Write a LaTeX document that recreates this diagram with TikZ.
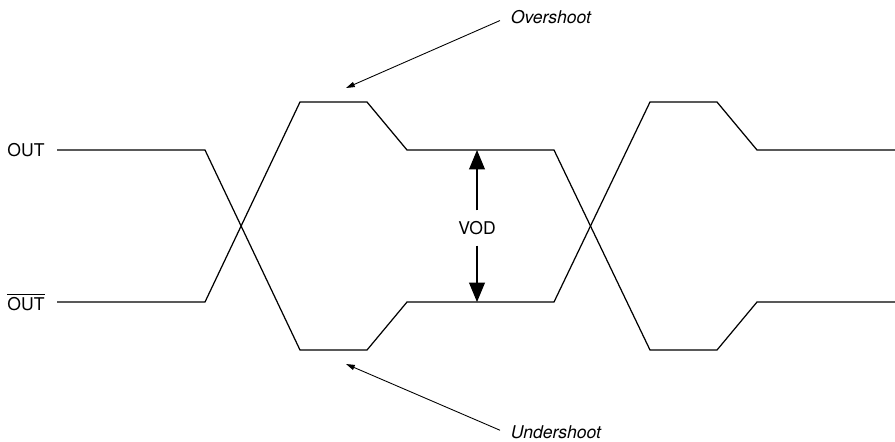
\documentclass[tikz,border=0pt]{standalone}
\usepackage{fontspec}
\setmainfont{TeX Gyre Heros}
\usepackage{tikz}
\usetikzlibrary{arrows.meta}

\begin{document}
\begin{tikzpicture}[
  x=0.02cm, y=-0.02cm,
  wave/.style={line width=0.7pt, line join=miter},
  lbl/.style={font=\fontsize{10}{12}\selectfont, inner xsep=7pt, inner ysep=2pt},
  note/.style={font=\fontsize{10}{12}\selectfont\itshape, inner xsep=6pt, inner ysep=2pt},
  pointer/.style={-{Triangle[length=5pt,width=3pt]}, line width=0.5pt},
  vodarrow/.style={-{Triangle[length=11pt,width=9pt]}, line width=0.6pt}
]

\useasboundingbox (0,0) rectangle (895,441);

% Signal names
\node[lbl] (out) at (26,150) {OUT};
\node[lbl] (outb) at (26,302) {$\overline{\mbox{OUT}}$};

% OUT waveform
\draw[wave] (out.east) -- (205,150) -- (300,350) -- (367,350) -- (407,302)
  -- (554,302) -- (650,102) -- (717,102) -- (757,150) -- (895,150);

% OUT-bar waveform
\draw[wave] (outb.east) -- (205,302) -- (300,102) -- (367,102) -- (407,150)
  -- (554,150) -- (650,350) -- (717,350) -- (757,302) -- (895,302);

% Differential swing
\node[lbl, inner ysep=6pt] (vod) at (477,228) {VOD};
\coordinate (vodtop) at (477,150);
\coordinate (vodbot) at (477,302);
\draw[vodarrow] (vod) -- (vodtop);
\draw[vodarrow] (vod) -- (vodbot);

% Annotations
\node[note, anchor=west] (over) at (500,17) {Overshoot};
\coordinate (overtip) at (346,88);
\draw[pointer] ([yshift=-2pt]over.west) -- (overtip);

\node[note, anchor=west] (under) at (500,432) {Undershoot};
\coordinate (undertip) at (346,364);
\draw[pointer] ([yshift=1pt]under.west) -- (undertip);

\end{tikzpicture}
\end{document}
